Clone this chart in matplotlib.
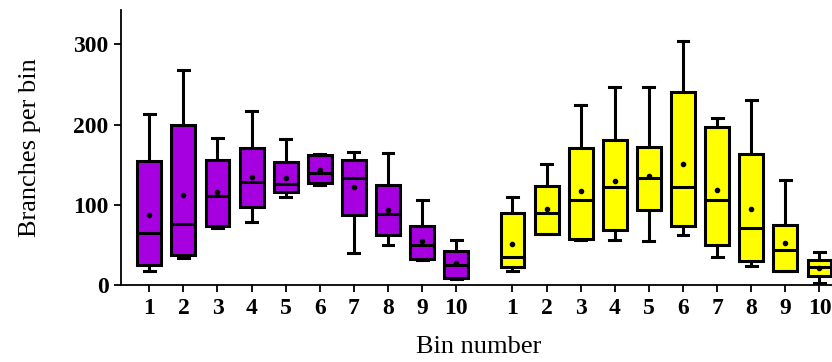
import numpy as np
import matplotlib.pyplot as plt

plt.rcParams['font.family'] = ['Liberation Serif', 'DejaVu Serif']

bins = [str(i) for i in range(1, 11)]

# purple group: whisker low, Q1, median, Q3, whisker high, mean
purple_low = [17, 34, 71, 78, 110, 125, 40, 50, 31, 7]
purple_q1 = [25, 37, 74, 97, 116, 127, 87, 62, 33, 9]
purple_med = [65, 76, 111, 129, 126, 140, 134, 88, 50, 25]
purple_q3 = [154, 199, 156, 171, 153, 162, 156, 125, 73, 42]
purple_high = [213, 268, 183, 217, 182, 163, 166, 164, 106, 56]
purple_mean = [87, 112, 116, 135, 134, 143, 122, 94, 55, 27]

# yellow group
yellow_low = [18, 63, 56, 56, 55, 62, 35, 24, 17, 3]
yellow_q1 = [23, 64, 57, 69, 93, 73, 50, 30, 18, 11]
yellow_med = [35, 90, 106, 122, 133, 122, 106, 71, 44, 22]
yellow_q3 = [90, 124, 171, 181, 172, 241, 197, 163, 75, 31]
yellow_high = [110, 151, 224, 247, 247, 304, 208, 231, 131, 41]
yellow_mean = [51, 95, 117, 130, 136, 151, 118, 95, 52, 21]


def make_stats(low, q1, med, q3, high, mean):
    return [dict(whislo=a, q1=b, med=c, q3=d, whishi=e, mean=f, fliers=[])
            for a, b, c, d, e, f in zip(low, q1, med, q3, high, mean)]


pos1 = np.arange(1, 11)
pos2 = pos1 + 10.65

fig = plt.figure(figsize=(8.32, 3.62), dpi=100)
ax = fig.add_axes([0.1454, 0.2127, 0.86, 0.76])

lw = 2.2
for stats, pos, color in [
    (make_stats(purple_low, purple_q1, purple_med, purple_q3, purple_high, purple_mean), pos1, '#a600e0'),
    (make_stats(yellow_low, yellow_q1, yellow_med, yellow_q3, yellow_high, yellow_mean), pos2, '#ffff00'),
]:
    ax.bxp(stats, positions=pos, widths=0.7, patch_artist=True, showmeans=True,
           showfliers=False, capwidths=0.32,
           boxprops=dict(facecolor=color, edgecolor='black', linewidth=lw),
           medianprops=dict(color='black', linewidth=lw),
           whiskerprops=dict(color='black', linewidth=lw),
           capprops=dict(color='black', linewidth=lw),
           meanprops=dict(marker='o', markerfacecolor='black',
                          markeredgecolor='black', markersize=3))

ax.set_xlim(0.17, 21.15)
ax.set_ylim(0, 343)
ax.set_xticks(np.concatenate([pos1, pos2]))
ax.set_xticklabels(bins + bins)
ax.set_yticks([0, 100, 200, 300])

ax.spines['top'].set_visible(False)
ax.spines['right'].set_visible(False)
ax.spines['left'].set_linewidth(1.3)
ax.spines['bottom'].set_linewidth(1.3)
ax.tick_params(direction='out', length=5, width=1.3, labelsize=17, pad=4)
for lab in ax.get_xticklabels() + ax.get_yticklabels():
    lab.set_fontweight('bold')

ax.set_ylabel('Branches per bin', fontsize=19)
ax.set_xlabel('Bin number', fontsize=19)
ax.yaxis.set_label_coords(-0.127, 0.5)
ax.xaxis.set_label_coords(0.5, -0.225)
ax.xaxis.label.set_va('center')
ax.yaxis.label.set_va('center')

fig.savefig('out.png', dpi=100)
